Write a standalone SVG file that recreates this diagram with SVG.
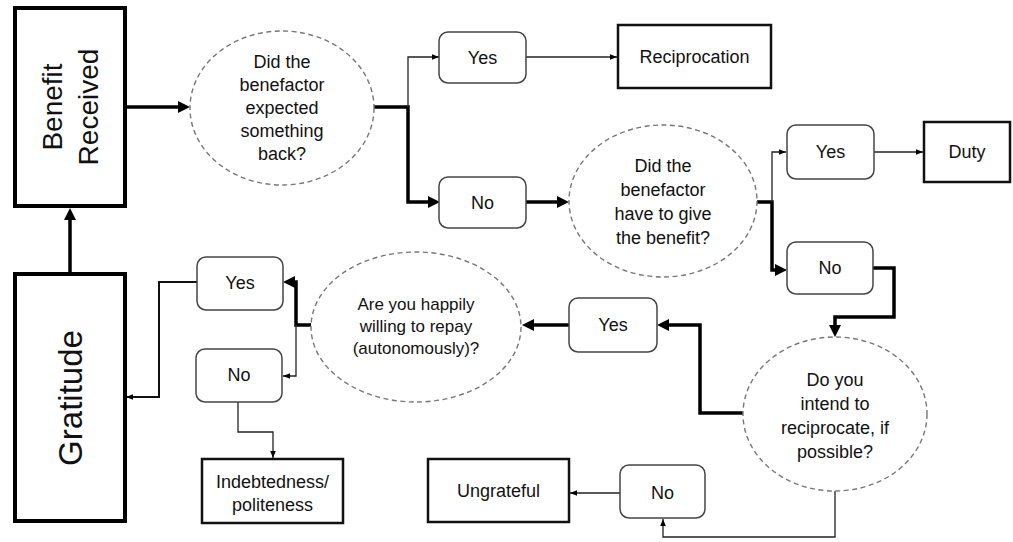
<svg xmlns="http://www.w3.org/2000/svg" width="1013" height="542" viewBox="0 0 1013 542">
<defs>
<marker id="big" viewBox="0 0 10 10" refX="5" refY="5" markerWidth="12" markerHeight="12" markerUnits="userSpaceOnUse" orient="auto"><path d="M0,0 L10,5 L0,10 z" fill="#000"/></marker>
<marker id="small" viewBox="0 0 10 8" refX="10" refY="4" markerWidth="7" markerHeight="5.6" markerUnits="userSpaceOnUse" orient="auto"><path d="M0,0 L10,4 L0,8 z" fill="#000"/></marker>
<style>
text{font-family:"Liberation Sans",Arial,sans-serif;fill:#111;text-anchor:middle}
.big{stroke:#000;stroke-width:4;fill:#fff}
.box{stroke:#111;stroke-width:2.5;fill:#fff}
.rnd{stroke:#444;stroke-width:1.5;fill:#fff}
.q{stroke:#777;stroke-width:1.4;stroke-dasharray:5,3.5;fill:#fff}
.t{fill:none;stroke:#000;stroke-width:3.5;marker-end:url(#big)}
.n{fill:none;stroke:#222;stroke-width:1.3;marker-end:url(#small)}
.m{fill:none;stroke:#111;stroke-width:2;marker-end:url(#small)}
.l{font-size:18px}
.s{font-size:17px}
</style>
</defs>
<g id="connectors">
<path class="t" d="M70,274 L70,214"/>
<path class="t" d="M127,107 L184,107"/>
<path class="t" d="M374,107 L408,107 L408,202 L434,202"/>
<path class="n" d="M408,107 L408,57 L439,57"/>
<path class="n" d="M526,57 L617,57"/>
<path class="t" d="M526,202 L563,202"/>
<path class="t" d="M757,202 L772,202 L772,270 L781,270"/>
<path class="n" d="M772,202 L772,152 L786,152"/>
<path class="n" d="M874,152 L923,152"/>
<path class="t" d="M873,268 L894,268 L894,317 L835,317 L835,331"/>
<path class="t" d="M743,413 L700,413 L700,325 L663,325"/>
<path class="t" d="M569,325 L528,325"/>
<path class="t" d="M311,325 L296,325 L296,282 L289,282"/>
<path class="n" d="M296,325 L296,376 L283,376"/>
<path class="m" d="M197,282 L159,282 L159,397 L126,397"/>
<path class="n" d="M238,402 L238,432 L273,432 L273,458"/>
<path class="n" d="M835,491 L835,537 L663,537 L663,519"/>
<path class="n" d="M620,493 L570,493"/>
</g>
<g id="benefit"><rect class="big" x="15" y="8" width="110" height="198"/>
<text font-size="28" transform="rotate(-90 52 107)" x="52" y="107" dy="0.35em">Benefit</text>
<text font-size="28" transform="rotate(-90 88 107)" x="88" y="107" dy="0.35em">Received</text></g>
<g id="gratitude"><rect class="big" x="15" y="274" width="110" height="247"/>
<text font-size="33" transform="rotate(-90 70 398)" x="70" y="398" dy="0.35em">Gratitude</text></g>
<g id="q1"><ellipse class="q" cx="282" cy="108" rx="92" ry="77"/>
<text class="l" x="282" y="68">Did the</text><text class="l" x="282" y="91">benefactor</text><text class="l" x="282" y="114">expected</text><text class="l" x="282" y="137">something</text><text class="l" x="282" y="160">back?</text></g>
<g id="yes1"><rect class="rnd" x="439" y="32" width="87" height="51" rx="9"/><text class="l" x="482.5" y="64">Yes</text></g>
<g id="no1"><rect class="rnd" x="439" y="177" width="87" height="51" rx="9"/><text class="l" x="482.5" y="209">No</text></g>
<g id="reciprocation"><rect class="box" x="618" y="25" width="153" height="63"/><text class="l" x="694.5" y="63">Reciprocation</text></g>
<g id="q2"><ellipse class="q" cx="663" cy="201" rx="94" ry="76"/>
<text class="l" x="663" y="172">Did the</text><text class="l" x="663" y="196">benefactor</text><text class="l" x="663" y="220">have to give</text><text class="l" x="663" y="244">the benefit?</text></g>
<g id="yes2"><rect class="rnd" x="787" y="125" width="87" height="54" rx="9"/><text class="l" x="830.5" y="158">Yes</text></g>
<g id="no2"><rect class="rnd" x="787" y="242" width="86" height="52" rx="9"/><text class="l" x="830" y="274">No</text></g>
<g id="duty"><rect class="box" x="924" y="122" width="86" height="60"/><text class="l" x="967" y="158">Duty</text></g>
<g id="q3"><ellipse class="q" cx="835" cy="414" rx="92" ry="77"/>
<text class="l" x="835" y="386">Do you</text><text class="l" x="835" y="410">intend to</text><text class="l" x="835" y="434">reciprocate, if</text><text class="l" x="835" y="458">possible?</text></g>
<g id="yes3"><rect class="rnd" x="569" y="298" width="88" height="54" rx="9"/><text class="l" x="613" y="331">Yes</text></g>
<g id="q4"><ellipse class="q" cx="416" cy="327" rx="105" ry="75"/>
<text class="s" x="416" y="310">Are you happily</text><text class="s" x="416" y="332">willing to repay</text><text class="s" x="416" y="354">(autonomously)?</text></g>
<g id="yes4"><rect class="rnd" x="197" y="257" width="86" height="53" rx="9"/><text class="l" x="240" y="289">Yes</text></g>
<g id="no4"><rect class="rnd" x="196" y="349" width="86" height="53" rx="9"/><text class="l" x="239" y="381">No</text></g>
<g id="indebtedness"><rect class="box" x="202" y="459" width="141" height="64"/><text class="l" x="272.5" y="488">Indebtedness/</text><text class="l" x="272.5" y="511">politeness</text></g>
<g id="no3"><rect class="rnd" x="620" y="465" width="85" height="53" rx="9"/><text class="l" x="662.5" y="499">No</text></g>
<g id="ungrateful"><rect class="box" x="428" y="459" width="141" height="63"/><text class="l" x="498.5" y="497">Ungrateful</text></g>
</svg>
